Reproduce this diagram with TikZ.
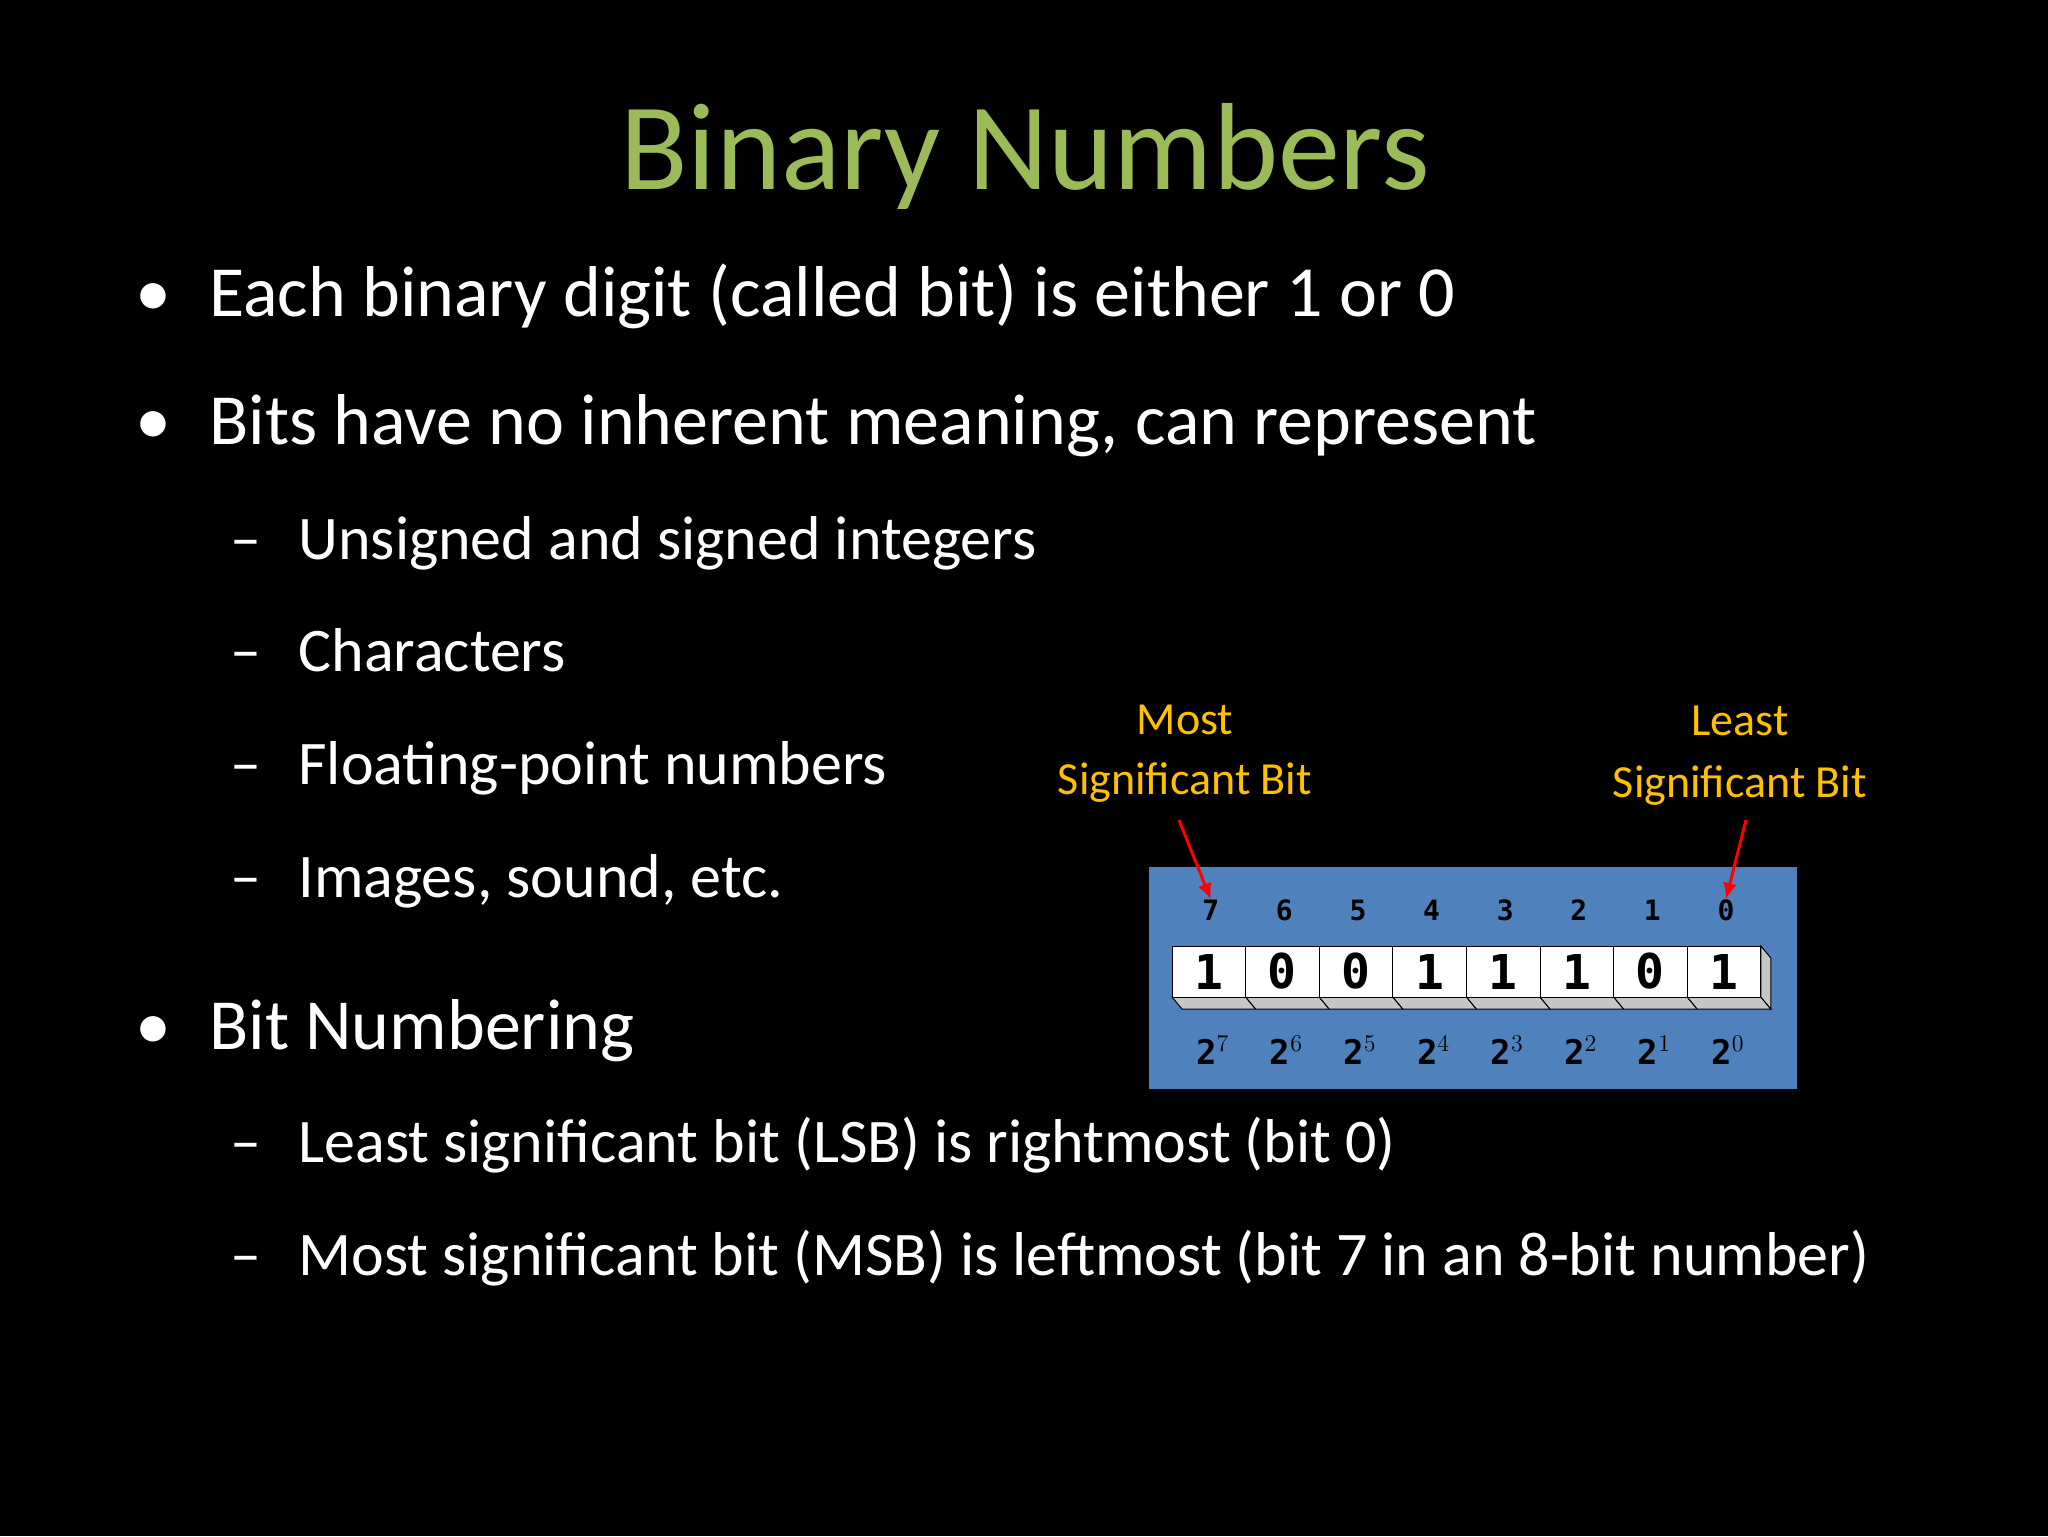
\documentclass[tikz,border=0pt]{standalone}
\usepackage{fontspec}
\setmainfont{Carlito}
\newfontfamily\monof{DejaVu Sans Mono}
\usetikzlibrary{arrows.meta}
\definecolor{ttl}{RGB}{155,187,89}
\definecolor{org}{RGB}{255,192,0}
\definecolor{blu}{RGB}{79,129,189}
\tikzset{
 bul/.style={anchor=base west,text=white,font=\fontsize{36}{40}\selectfont,inner sep=0},
 sub/.style={anchor=base west,text=white,font=\fontsize{31}{36}\selectfont,inner sep=0},
 lbl/.style={anchor=base,text=org,font=\fontsize{23}{26}\selectfont,inner sep=0},
 cell/.style={draw=black,fill=white,minimum width=36.8pt,minimum height=25.5pt,inner sep=0,font=\monof\bfseries\fontsize{24}{24}\selectfont,line width=0.5pt},
 num/.style={font=\monof\bfseries\fontsize{14}{14}\selectfont,inner sep=0},
 pw/.style={font=\monof\bfseries\fontsize{17}{17}\selectfont,inner sep=0},
 arr/.style={draw=red,line width=1.5pt,-{Latex[length=8pt,width=7pt]}}
}
\begin{document}
\begin{tikzpicture}[x=0.5pt,y=-0.5pt]
\fill[black] (0,0) rectangle (2048,1536);
\useasboundingbox (0,0) rectangle (2048,1536);
\node[anchor=base,text=ttl,font=\fontsize{62}{70}\selectfont,inner sep=0] (title) at (1025,189) {Binary Numbers};
\foreach \y/\t [count=\i] in {316/Each binary digit (called bit) is either 1 or 0, 444/{Bits have no inherent meaning, can represent}, 1049/Bit Numbering}{
 \node[bul] (bd\i) at (135,\y) {•};
 \node[bul] (b\i) at (209,\y) {\t};
}
\foreach \y/\t [count=\i] in {559/Unsigned and signed integers, 671/Characters, 784/Floating-point numbers, 897/{Images, sound, etc.}, 1162/Least significant bit (LSB) is rightmost (bit 0), 1275/Most significant bit (MSB) is leftmost (bit 7 in an 8-bit number)}{
 \node[sub] (sd\i) at (230,\y) {–};
 \node[sub] (s\i) at (298,\y) {\t};
}
\fill[blu] (1149,867) rectangle (1797,1089);
\node[lbl] (m1) at (1185,734) {Most};
\node[lbl] (m2) at (1185,794) {Significant Bit};
\node[lbl] (l1) at (1740,735) {Least};
\node[lbl] (l2) at (1740,797) {Significant Bit};
\foreach \i in {0,...,7}{
 \pgfmathsetmacro\xa{1172+\i*73.6}
 \draw[fill=gray!45,line width=0.5pt] (\xa,997) -- ({\xa+73.6},997) -- ({\xa+83.6},1009) -- ({\xa+10},1009) -- cycle;
}
\draw[fill=gray!45,line width=0.5pt] (1760.8,946) -- (1770.8,958) -- (1770.8,1009) -- (1760.8,997) -- cycle;
\foreach \b [count=\i from 0] in {1,0,0,1,1,1,0,1}{
 \pgfmathtruncatemacro\p{7-\i}
 \node[cell] (c\i) at ({1172+36.8+\i*73.6},971.5) {\b};
 \node[num] (n\i) at ({1172+36.8+\i*73.6+2},910) {\p};
 \node[pw] (p\i) at ({1172+36.8+\i*73.6+4},1050) {2$^{\p}$};
}
\coordinate (a1) at (1179,820);
\coordinate (a2) at (1746,820);
\draw[arr] (a1) -- (n0.north);
\draw[arr] (a2) -- (n7.north);
\end{tikzpicture}
\end{document}
